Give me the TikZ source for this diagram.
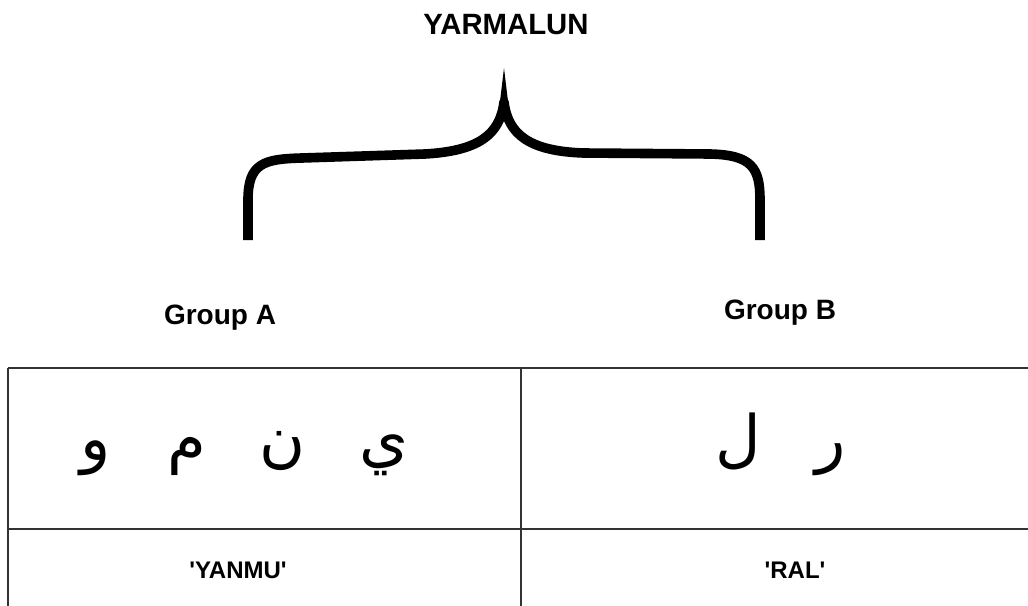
\documentclass[tikz,border=0pt]{standalone}
\usepackage{fontspec}
\setsansfont{Liberation Sans}
\newfontfamily\arabicfont[Script=Arabic]{DejaVu Sans}
\TeXXeTstate=1
\usepackage{tikz}

\begin{document}
\begin{tikzpicture}[x=0.75pt,y=-0.75pt,
  rule/.style={line width=1.6pt,black!80},
  bracepath/.style={line width=7.2pt,line cap=butt,line join=round},
  lbl/.style={anchor=base,inner sep=0pt,font=\sffamily\bfseries\fontsize{21}{24}\selectfont},
  cell/.style={anchor=base,inner sep=0pt,font=\sffamily\bfseries\fontsize{18}{21}\selectfont},
  letter/.style={anchor=base,inner sep=0pt,font=\arabicfont\fontsize{47}{56}\selectfont}]
  \useasboundingbox (0,0) rectangle (1028,606);
  % title and brace
  \node[lbl,font=\sffamily\bfseries\fontsize{22}{26}\selectfont] (title) at (506,35) {YARMALUN};
  \coordinate (tip) at (504,68);
  \draw[bracepath] (248,240) -- (248,200) .. controls (248,163) and (264,159) .. (302,158)
    -- (425,154) .. controls (478,151) and (500,135) .. (504,102)
    .. controls (508,135) and (530,151) .. (583,153) -- (710,154)
    .. controls (752,155) and (760,168) .. (760,200) -- (760,240);
  \fill (498,118) -- (tip) -- (510,118) -- cycle;
  % group labels
  \node[lbl] (grpA) at (220,324) {Group A};
  \node[lbl] (grpB) at (780,319) {Group B};
  % table
  \coordinate (tl) at (8,368);
  \coordinate (tr) at (1028,368);
  \coordinate (ml) at (8,529);
  \coordinate (mr) at (1028,529);
  \coordinate (bl) at (8,606);
  \coordinate (tm) at (521,368);
  \coordinate (bm) at (521,606);
  \draw[rule] (tl) -- (tr);
  \draw[rule] (ml) -- (mr);
  \draw[rule] (tl) -- (bl);
  \draw[rule] (tm) -- (bm);
  % letters of group A
  \node[letter] (ya) at (384,460) {\beginR ي\endR};
  \node[letter] (nun) at (283,460) {\beginR ن\endR};
  \node[letter] (mim) at (187,460) {\beginR م\endR};
  \node[letter] (waw) at (96,460) {\beginR و\endR};
  % letters of group B
  \node[letter] (lam) at (738,460) {\beginR ل\endR};
  \node[letter] (ra) at (831,460) {\beginR ر\endR};
  % transcriptions
  \node[cell] (trA) at (238,578) {\textquotesingle YANMU\textquotesingle};
  \node[cell] (trB) at (795,578) {\textquotesingle RAL\textquotesingle};
\end{tikzpicture}
\end{document}
